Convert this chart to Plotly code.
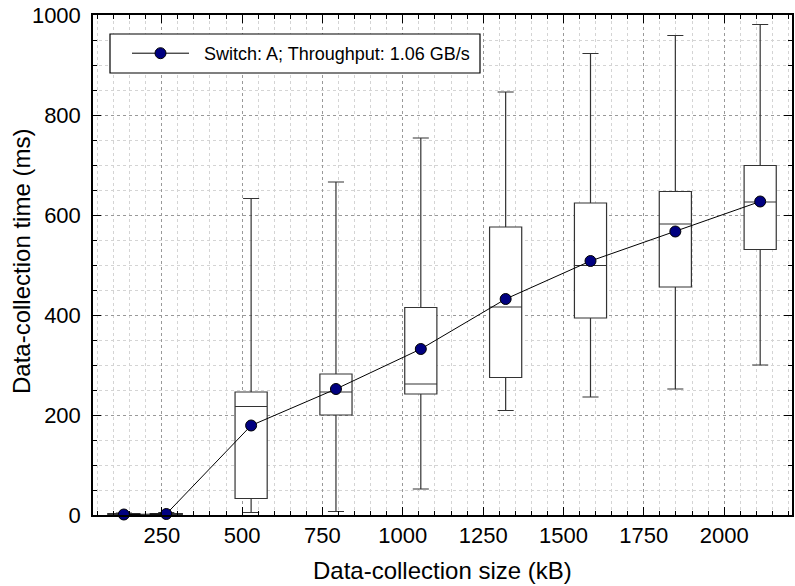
import plotly.graph_objects as go

sizes_kb = [132, 264, 528, 792, 1056, 1320, 1584, 1848, 2112]
lower = [0, 0, 5, 7, 52, 209, 236, 252, 300]
q1 = [0, 0, 33, 200, 242, 275, 394, 456, 531]
median = [1, 1, 217, 246, 262, 416, 499, 582, 626]
q3 = [3, 3, 246, 282, 415, 576, 624, 647, 699]
upper = [4, 5, 633, 666, 754, 846, 923, 959, 981]
mean = [1, 2, 179, 252, 332, 432, 508, 567, 627]

series_name = "Switch: A; Throughput: 1.06 GB/s"
x_title = "Data-collection size (kB)"
y_title = "Data-collection time (ms)"
x_ticks = [250, 500, 750, 1000, 1250, 1500, 1750, 2000]
y_ticks = [0, 200, 400, 600, 800, 1000]

FONT = "Liberation Sans"

W, H = 795, 586
L, R, T, B = 93, 3, 15, 71
PW, PH = W - L - R, H - T - B


def px_x(p):
    return (p - L) / PW


def px_y(p):
    return (H - B - p) / PH


fig = go.Figure()
fig.add_trace(go.Box(
    x=sizes_kb, q1=q1, median=median, q3=q3,
    lowerfence=lower, upperfence=upper,
    width=100, whiskerwidth=0.5,
    fillcolor="white",
    line=dict(color="#333333", width=1.2),
    boxpoints=False, showlegend=False, hoverinfo="skip",
))
fig.add_trace(go.Scatter(
    x=sizes_kb, y=mean, mode="lines+markers", name="&nbsp;&nbsp;" + series_name,
    line=dict(color="black", width=1),
    marker=dict(color="#000080", size=11, line=dict(color="black", width=1)),
    cliponaxis=False,
))

axis_common = dict(
    showline=True, linecolor="black", linewidth=1.5, mirror="allticks",
    ticks="inside", ticklen=8, tickwidth=1.2, tickcolor="black",
    showgrid=True, gridcolor="#999999", griddash="dot", gridwidth=1,
    zeroline=False, automargin=False,
    tickfont=dict(family=FONT, size=22, color="black"),
)
minor_common = dict(dtick=50, tick0=0, ticks="inside", ticklen=4, tickcolor="black",
                    showgrid=True, gridcolor="#d4d4d4", griddash="dot", gridwidth=1)

fig.update_xaxes(range=[36, 2211], tickvals=x_ticks, minor=minor_common, **axis_common)
fig.update_yaxes(range=[0, 1000], tickvals=y_ticks, ticklabelstandoff=6,
                 minor=minor_common, **axis_common)

fig.add_annotation(text=x_title, xref="paper", yref="paper",
                   x=px_x(442), y=px_y(555), xanchor="center", yanchor="top",
                   showarrow=False, font=dict(family=FONT, size=24, color="black"))
fig.add_annotation(text=y_title, xref="paper", yref="paper", textangle=-90,
                   x=px_x(21), y=px_y(262), xanchor="center", yanchor="middle",
                   showarrow=False, font=dict(family=FONT, size=24, color="black"))

# legend frame
fig.add_shape(type="rect", xref="paper", yref="paper",
              x0=px_x(110), x1=px_x(480), y0=px_y(73), y1=px_y(34),
              line=dict(color="black", width=1.2), fillcolor="white", layer="above")

fig.update_layout(
    width=W, height=H,
    margin=dict(l=L, r=R, t=T, b=B),
    paper_bgcolor="white", plot_bgcolor="white",
    font=dict(family=FONT, color="black"),
    legend=dict(
        x=px_x(127), y=px_y(53.5), xanchor="left", yanchor="middle",
        borderwidth=0, bgcolor="rgba(0,0,0,0)",
        font=dict(family=FONT, size=18, color="black"),
        itemwidth=57,
    ),
)

fig.write_html("out.html", config={"displayModeBar": False},
               post_script="document.body.style.margin='0';document.documentElement.style.overflow='hidden';")
